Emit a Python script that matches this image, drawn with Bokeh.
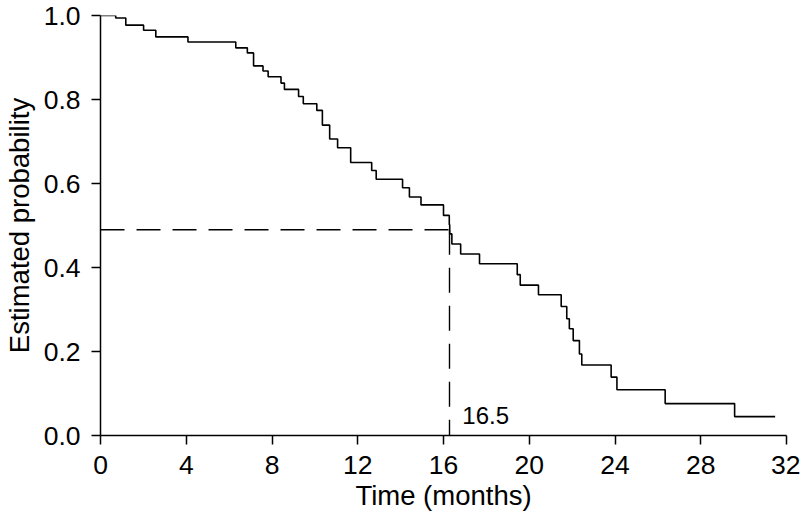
from bokeh.plotting import figure
from bokeh.models import Range1d, FixedTicker, NumeralTickFormatter, Label
from bokeh.embed import file_html
from bokeh.resources import INLINE

# Kaplan-Meier step data (months, estimated probability)
times = [0.0, 0.71, 1.18, 2.01, 2.58, 4.08, 6.31, 6.85, 7.14, 7.58, 7.82,
         8.42, 8.58, 9.24, 9.46, 10.09, 10.35, 10.69, 11.06, 11.67, 12.65,
         12.86, 14.09, 14.41, 14.95, 16.00, 16.27, 16.29, 16.39, 16.80, 17.68,
         19.44, 19.58, 20.43, 21.49, 21.75, 21.87, 22.05, 22.34, 22.45, 23.82,
         24.09, 26.34, 29.58, 31.47]
surv = [1.000, 0.994, 0.977, 0.965, 0.949, 0.937, 0.923, 0.911, 0.880, 0.868,
        0.854, 0.839, 0.824, 0.807, 0.790, 0.774, 0.739, 0.706, 0.685, 0.650,
        0.631, 0.610, 0.590, 0.568, 0.549, 0.524, 0.502, 0.480, 0.456, 0.432,
        0.409, 0.383, 0.358, 0.335, 0.307, 0.278, 0.254, 0.226, 0.194, 0.168,
        0.139, 0.109, 0.076, 0.045, 0.045]

median_time = 16.28
median_prob = 0.49
median_label = "16.5"

x_ticks = [0, 4, 8, 12, 16, 20, 24, 28, 32]
y_ticks = [0.0, 0.2, 0.4, 0.6, 0.8, 1.0]

FONT = "Liberation Sans"

p = figure(width=800, height=515, output_backend="svg", toolbar_location=None,
           x_range=Range1d(0, 32), y_range=Range1d(0, 1),
           frame_width=686, frame_height=420,
           min_border_left=100, min_border_right=14, min_border_top=15, min_border_bottom=80)
p.outline_line_color = None
p.xgrid.visible = False
p.ygrid.visible = False
p.background_fill_color = "white"
p.border_fill_color = "white"

# KM curve
p.step(times, surv, mode="after", line_color="black", line_width=1.6)

# median dashed lines
p.line([0, median_time], [median_prob, median_prob], line_color="black",
       line_width=1.4, line_dash="24 12")
p.line([median_time, median_time], [median_prob, 0], line_color="black",
       line_width=1.4, line_dash="25 13")

p.add_layout(Label(x=median_time + 0.6, y=0.048, text=median_label,
                   text_font=FONT, text_font_size="24px", text_color="black",
                   text_baseline="middle", text_align="left"))

for ax in (p.xaxis[0], p.yaxis[0]):
    ax.axis_line_color = "black"
    ax.axis_line_width = 1.5
    ax.major_tick_line_color = "black"
    ax.major_tick_line_width = 1.5
    ax.major_tick_out = 9
    ax.major_tick_in = 0
    ax.minor_tick_line_color = None
    ax.major_label_text_font = FONT
    ax.major_label_text_font_size = "26.5px"
    ax.major_label_text_color = "black"
    ax.axis_label_text_font = FONT
    ax.axis_label_text_font_size = "27.5px"
    ax.axis_label_text_font_style = "normal"
    ax.axis_label_text_color = "black"

p.xaxis.ticker = FixedTicker(ticks=x_ticks)
p.yaxis.ticker = FixedTicker(ticks=y_ticks)
p.yaxis.formatter = NumeralTickFormatter(format="0.0")
p.xaxis.axis_label = "Time (months)"
p.yaxis.axis_label = "Estimated probability"
p.xaxis.major_label_standoff = 11
p.yaxis.major_label_standoff = 11
p.xaxis.axis_label_standoff = 3
p.yaxis.axis_label_standoff = 6

open("out.html", "w").write(file_html(p, INLINE))
